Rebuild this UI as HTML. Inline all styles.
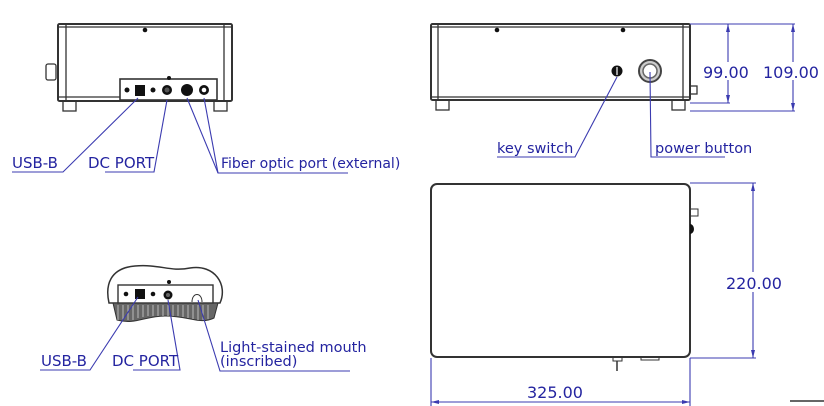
<!DOCTYPE html>
<html><head><meta charset="utf-8"><style>
html,body{margin:0;padding:0;background:#fff;}
svg{display:block;}
text{font-family:"DejaVu Sans","Liberation Sans",sans-serif;fill:#2424a0;}
</style></head><body>
<svg width="824" height="406" viewBox="0 0 824 406" xmlns="http://www.w3.org/2000/svg">
<g fill="none" stroke="#333" stroke-width="1.3">
<rect x="58" y="24" width="174" height="77" rx="1.5" stroke-width="2"/>
<line x1="66" y1="25" x2="66" y2="100"/>
<line x1="224" y1="25" x2="224" y2="100"/>
<line x1="58" y1="27" x2="232" y2="27"/>
<line x1="58" y1="97" x2="120" y2="97"/>
<rect x="63" y="101" width="13" height="10"/>
<rect x="214" y="101" width="13" height="10"/>
<rect x="46" y="64" width="10" height="16" rx="2"/>
<rect x="120" y="79" width="97" height="21" stroke-width="1.6"/>
</g>
<g fill="#111">
<circle cx="145" cy="30" r="2.3"/>
<circle cx="169" cy="78" r="2"/>
<circle cx="127" cy="90" r="2.5"/>
<rect x="135" y="85" width="10" height="11"/>
<circle cx="153" cy="90" r="2.5"/>
<circle cx="167" cy="90" r="5"/>
<circle cx="187" cy="90" r="6"/>
<circle cx="204" cy="90" r="5"/>
</g>
<circle cx="167" cy="90" r="2.5" fill="#555"/>
<circle cx="204" cy="90" r="2.3" fill="#fff"/>
<g stroke="#3b3bb0" stroke-width="1.1" fill="none">
<polyline points="138,98 63,172 12,172"/>
<polyline points="167,100 154,172 105,172"/>
<polyline points="187,98 218,173 348,173"/>
<line x1="204" y1="98" x2="218" y2="173"/>
</g>
<text x="12" y="168" font-size="15">USB-B</text>
<text x="88" y="168" font-size="15">DC PORT</text>
<text x="221" y="168" font-size="14">Fiber optic port (external)</text>

<path d="M109,303 C105,285 110,268 135,266 C160,264 170,272 190,268 C215,264 228,285 220,303 Z" fill="none" stroke="#333" stroke-width="1.5"/>
<path d="M113,303 L218,303 L214,318 C200,325 190,316 165,316 C145,316 135,325 117,320 Z" fill="#666" stroke="#333"/>
<g stroke="#bbb" stroke-width="1">
<line x1="118" y1="305" x2="118" y2="320"/><line x1="123" y1="305" x2="123" y2="320"/><line x1="128" y1="305" x2="128" y2="320"/><line x1="133" y1="305" x2="133" y2="320"/><line x1="138" y1="305" x2="138" y2="318"/><line x1="143" y1="305" x2="143" y2="317"/><line x1="148" y1="305" x2="148" y2="316"/><line x1="153" y1="305" x2="153" y2="316"/><line x1="158" y1="305" x2="158" y2="316"/><line x1="163" y1="305" x2="163" y2="316"/><line x1="168" y1="305" x2="168" y2="316"/><line x1="173" y1="305" x2="173" y2="316"/><line x1="178" y1="305" x2="178" y2="316"/><line x1="183" y1="305" x2="183" y2="317"/><line x1="188" y1="305" x2="188" y2="318"/><line x1="193" y1="305" x2="193" y2="319"/><line x1="198" y1="305" x2="198" y2="320"/><line x1="203" y1="305" x2="203" y2="320"/><line x1="208" y1="305" x2="208" y2="319"/>
</g>
<rect x="118" y="285" width="95" height="18" fill="#fff" stroke="#333" stroke-width="1.4"/>
<g fill="#111">
<circle cx="169" cy="282" r="2"/>
<circle cx="126" cy="294" r="2.3"/>
<rect x="135" y="289" width="10" height="10"/>
<circle cx="153" cy="294" r="2.3"/>
<circle cx="168" cy="295" r="4.5"/>
</g>
<circle cx="168" cy="295" r="2" fill="#666"/>
<path d="M192,302 C192,292 202,292 202,302" fill="none" stroke="#333"/>
<g stroke="#3b3bb0" stroke-width="1.1" fill="none">
<polyline points="138,297 90,370 40,370"/>
<polyline points="168,300 180,370 133,370"/>
<polyline points="198,300 220,371 350,371"/>
</g>
<text x="41" y="366" font-size="15">USB-B</text>
<text x="112" y="366" font-size="15">DC PORT</text>
<text x="220" y="352" font-size="14.5">Light-stained mouth</text>
<text x="220" y="366" font-size="14.5">(inscribed)</text>

<g fill="none" stroke="#333" stroke-width="1.3">
<rect x="431" y="24" width="259" height="76" rx="1.5" stroke-width="2"/>
<line x1="438" y1="25" x2="438" y2="99"/>
<line x1="683" y1="25" x2="683" y2="99"/>
<line x1="431" y1="27" x2="690" y2="27"/>
<line x1="431" y1="97" x2="690" y2="97"/>
<rect x="436" y="100" width="13" height="10"/>
<rect x="672" y="100" width="13" height="10"/>
<rect x="690" y="86" width="7" height="8"/>
</g>
<g fill="#111">
<circle cx="497" cy="30" r="2.3"/>
<circle cx="623" cy="30" r="2.3"/>
<circle cx="617" cy="71" r="5.5"/>
</g>
<line x1="617" y1="67" x2="617" y2="75" stroke="#fff" stroke-width="1.2"/>
<circle cx="650" cy="71" r="11" fill="#ccc" stroke="#444" stroke-width="2"/>
<circle cx="650" cy="71" r="7" fill="#fff" stroke="#666" stroke-width="1.5"/>
<g stroke="#3b3bb0" stroke-width="1.1" fill="none">
<polyline points="617,77 575,157 497,157"/>
<polyline points="650,72 651,157 725,157"/>
<line x1="690" y1="24" x2="795" y2="24"/>
<line x1="690" y1="103" x2="730" y2="103"/>
<line x1="690" y1="111" x2="795" y2="111"/>
<line x1="728" y1="24" x2="728" y2="103"/>
<line x1="793" y1="24" x2="793" y2="111"/>
</g>
<g fill="#3b3bb0">
<path d="M728,24 l-2,8 h4z"/><path d="M728,103 l-2,-8 h4z"/>
<path d="M793,24 l-2,8 h4z"/><path d="M793,111 l-2,-8 h4z"/>
</g>
<rect x="703" y="62" width="50" height="18" fill="#fff"/>
<rect x="765" y="62" width="55" height="18" fill="#fff"/>
<text x="703" y="78" font-size="16" font-family="Liberation Sans">99.00</text>
<text x="763" y="78" font-size="16" font-family="Liberation Sans">109.00</text>
<text x="497" y="153" font-size="14.5">key switch</text>
<text x="655" y="153" font-size="14.5">power button</text>

<g fill="none" stroke="#333">
<rect x="431" y="184" width="259" height="173" rx="6" stroke-width="2"/>
<rect x="690" y="209" width="8" height="7" stroke-width="1"/>
<rect x="613" y="357" width="9" height="4"/>
<line x1="617" y1="361" x2="617" y2="371" stroke-width="1.5"/>
<rect x="641" y="357" width="18" height="3"/>
</g>
<path d="M690,224 a4,5 0 0 1 0,10z" fill="#111"/>
<g stroke="#3b3bb0" stroke-width="1.1" fill="none">
<line x1="690" y1="183" x2="756" y2="183"/>
<line x1="690" y1="358" x2="756" y2="358"/>
<line x1="753" y1="183" x2="753" y2="358"/>
<line x1="431" y1="358" x2="431" y2="406"/>
<line x1="690" y1="358" x2="690" y2="406"/>
<line x1="431" y1="402" x2="690" y2="402"/>
</g>
<g fill="#3b3bb0">
<path d="M753,183 l-2,8 h4z"/><path d="M753,358 l-2,-8 h4z"/>
<path d="M431,402 l8,-2 v4z"/><path d="M690,402 l-8,-2 v4z"/>
</g>
<rect x="726" y="272" width="56" height="20" fill="#fff"/>
<text x="726" y="289" font-size="16" font-family="Liberation Sans">220.00</text>
<text x="527" y="398" font-size="16" font-family="Liberation Sans">325.00</text>
<line x1="790" y1="401" x2="824" y2="401" stroke="#333" stroke-width="1.5"/>
</svg>
</body></html>
